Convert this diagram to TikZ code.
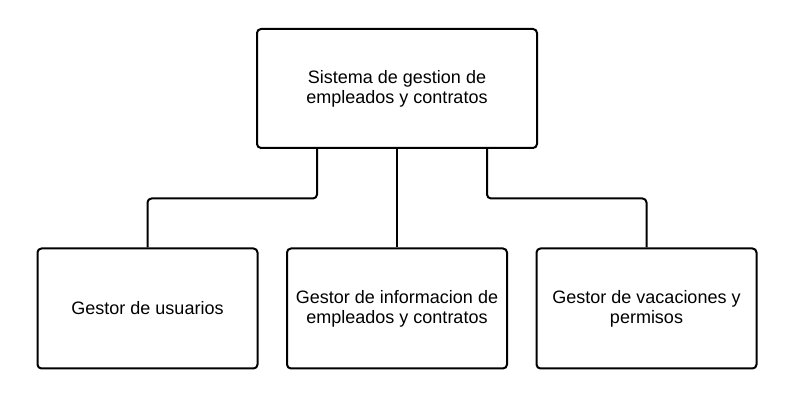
\documentclass[tikz,border=0pt]{standalone}
\usepackage{fontspec}
\setmainfont{Liberation Sans}
\begin{document}
\begin{tikzpicture}[x=0.75pt,y=-0.75pt,
  box/.style={draw=black,line width=1.5pt,rounded corners=3pt,fill=white,inner sep=0pt,
    align=center,font=\fontsize{13.5pt}{15pt}\selectfont},
  link/.style={draw=black,line width=1.5pt,rounded corners=3pt}]
\useasboundingbox (0,0) rectangle (803,409);
\node[box,minimum width=280*0.75pt,minimum height=119*0.75pt] (top) at (397,88.5) {Sistema de gestion de\\empleados y contratos};
\node[box,minimum width=220*0.75pt,minimum height=120*0.75pt] (a) at (147.5,308.5) {Gestor de usuarios};
\node[box,minimum width=220*0.75pt,minimum height=120*0.75pt] (b) at (397,308.5) {Gestor de informacion de\\empleados y contratos};
\node[box,minimum width=220*0.75pt,minimum height=120*0.75pt] (c) at (646.5,308.5) {Gestor de vacaciones y\\permisos};
\coordinate (tl) at (317,148);
\coordinate (tr) at (487,148);
\draw[link] (tl) -- (317,198.5) -| (a.north);
\draw[link] (top.south) -- (b.north);
\draw[link] (tr) -- (487,198.5) -| (c.north);
\end{tikzpicture}
\end{document}
